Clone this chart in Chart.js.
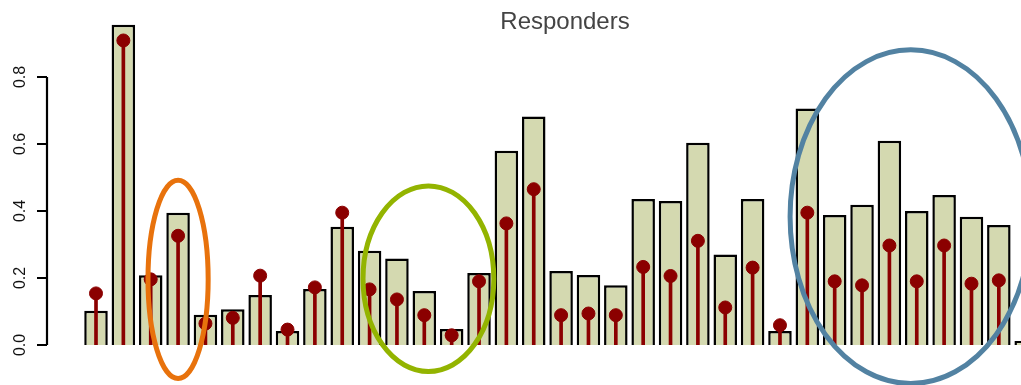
<!DOCTYPE html>
<html>
<head>
<meta charset="utf-8">
<script src="https://cdn.jsdelivr.net/npm/chart.js@4/dist/chart.umd.min.js"></script>
<style>
  html, body { margin: 0; padding: 0; background: #fff; overflow: hidden; }
</style>
</head>
<body>
<canvas id="respChart" width="1021" height="385"></canvas>
<script>
// bar heights and red lollipop values, one per sample
const barValues = [0.102, 0.956, 0.208, 0.395, 0.090, 0.107, 0.149, 0.042, 0.167, 0.353,
                   0.281, 0.258, 0.161, 0.048, 0.215, 0.580, 0.682, 0.221, 0.209, 0.178,
                   0.436, 0.430, 0.604, 0.270, 0.436, 0.042, 0.706, 0.388, 0.419, 0.610,
                   0.400, 0.448, 0.383, 0.358, 0.012];
const pointValues = [0.154, 0.909, 0.196, 0.326, 0.064, 0.081, 0.207, 0.046, 0.172, 0.395,
                     0.166, 0.136, 0.089, 0.029, 0.190, 0.363, 0.465, 0.089, 0.094, 0.089,
                     0.233, 0.206, 0.311, 0.112, 0.231, 0.059, 0.395, 0.190, 0.178, 0.297,
                     0.190, 0.297, 0.183, 0.193, null];
const categories = barValues.map((_, i) => i + 1);
const yTicks = [0, 0.2, 0.4, 0.6, 0.8];
const yTickLabels = ['0.0', '0.2', '0.4', '0.6', '0.8'];

// highlight rings: centre (sample index, value) and radii in the same units
const rings = [
  { cx: 4, cy: 0.196, rx: 1.10, ry: 0.296, color: '#e8720c' },
  { cx: 13.15, cy: 0.198, rx: 2.39, ry: 0.277, color: '#93b400' },
  { cx: 30.78, cy: 0.383, rx: 4.41, ry: 0.498, color: '#5282a2' }
];

const toXY = vals => categories.map((c, i) => ({ x: c, y: vals[i] }));

const overlay = {
  id: 'overlay',
  afterDraw(chart) {
    const { ctx, chartArea } = chart;
    const x = chart.scales.x, y = chart.scales.y;
    const ax = chartArea.left;

    // R style y axis
    ctx.save();
    ctx.strokeStyle = '#000';
    ctx.lineWidth = 2.2;
    ctx.beginPath();
    ctx.moveTo(ax, y.getPixelForValue(yTicks[0]));
    ctx.lineTo(ax, y.getPixelForValue(yTicks[yTicks.length - 1]));
    yTicks.forEach(v => {
      const py = y.getPixelForValue(v);
      ctx.moveTo(ax, py);
      ctx.lineTo(ax - 10, py);
    });
    ctx.stroke();
    ctx.fillStyle = '#111';
    ctx.font = '16px "Liberation Sans", Arial, sans-serif';
    ctx.textAlign = 'center';
    ctx.textBaseline = 'middle';
    yTicks.forEach((v, i) => {
      ctx.save();
      ctx.translate(ax - 26, y.getPixelForValue(v));
      ctx.rotate(-Math.PI / 2);
      ctx.fillText(yTickLabels[i], 0, 0);
      ctx.restore();
    });

    // rings
    ctx.lineWidth = 5;
    rings.forEach(r => {
      const px = x.getPixelForValue(r.cx);
      const py = y.getPixelForValue(r.cy);
      const rx = Math.abs(x.getPixelForValue(r.cx + r.rx) - px);
      const ry = Math.abs(y.getPixelForValue(r.cy + r.ry) - py);
      ctx.strokeStyle = r.color;
      ctx.beginPath();
      ctx.ellipse(px, py, rx, ry, 0, 0, Math.PI * 2);
      ctx.stroke();
    });

    // title
    ctx.fillStyle = '#444';
    ctx.font = '24px "Liberation Sans", Arial, sans-serif';
    ctx.textAlign = 'center';
    ctx.fillText('Responders', 565, 22);
    ctx.restore();
  }
};

new Chart(document.getElementById('respChart'), {
  data: {
    datasets: [
      {
        type: 'line',
        data: toXY(pointValues),
        showLine: false,
        pointStyle: 'circle',
        pointRadius: 6.5,
        pointBackgroundColor: '#8b0000',
        pointBorderColor: '#8b0000',
        pointBorderWidth: 1,
        order: 1
      },
      {
        type: 'bar',
        data: toXY(pointValues),
        backgroundColor: '#8b0000',
        borderWidth: 0,
        barThickness: 3,
        grouped: false,
        order: 2
      },
      {
        type: 'bar',
        data: toXY(barValues),
        backgroundColor: '#d4d9b0',
        borderColor: '#000',
        borderWidth: 2.5,
        barPercentage: 0.86,
        categoryPercentage: 1,
        grouped: false,
        order: 3
      }
    ]
  },
  options: {
    responsive: false,
    animation: false,
    layout: { autoPadding: false, padding: { left: 47, right: 0, top: 10, bottom: 40 } },
    plugins: {
      legend: { display: false },
      tooltip: { enabled: false }
    },
    scales: {
      x: { type: 'linear', display: false, offset: false, min: -0.791, max: 34.81 },
      y: { display: false, min: 0, max: 1 }
    }
  },
  plugins: [overlay]
});
</script>
</body>
</html>
